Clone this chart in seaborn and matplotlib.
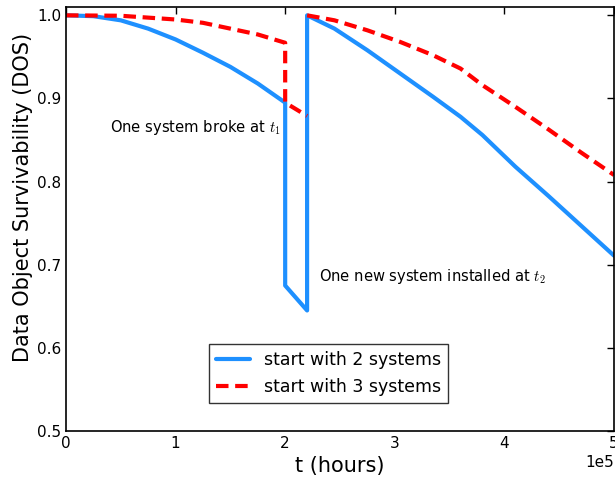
import pandas as pd
import matplotlib
matplotlib.use("Agg")
import matplotlib.pyplot as plt
import seaborn as sns

# ----------------------------
# Data (t in hours)
# ----------------------------
t_two = [0, 0.25e5, 0.5e5, 0.75e5, 1.0e5, 1.25e5, 1.5e5, 1.75e5, 2.0e5,
         2.0e5, 2.2e5,
         2.2e5, 2.45e5, 2.75e5, 3.05e5, 3.35e5, 3.6e5, 3.8e5, 4.1e5, 4.4e5, 4.7e5, 5.0e5]
dos_two = [1.0, 0.999, 0.994, 0.984, 0.971, 0.955, 0.938, 0.918, 0.895,
           0.675, 0.645,
           1.0, 0.984, 0.958, 0.930, 0.902, 0.878, 0.856, 0.818, 0.783, 0.747, 0.711]
seg_two = [0] * 22

t_three = [0, 0.5e5, 1.0e5, 1.25e5, 1.5e5, 1.75e5, 2.0e5,
           2.0e5, 2.2e5,
           2.2e5, 2.45e5, 2.75e5, 3.05e5, 3.35e5, 3.6e5, 3.8e5, 4.1e5, 4.4e5, 4.7e5, 5.0e5]
dos_three = [1.0, 0.9995, 0.995, 0.991, 0.984, 0.977, 0.967,
             0.895, 0.879,
             1.0, 0.994, 0.982, 0.968, 0.952, 0.936, 0.916, 0.890, 0.863, 0.835, 0.808]
seg_three = [1] * 9 + [2] * 11

labels = ["start with 2 systems", "start with 3 systems"]

df = pd.concat([
    pd.DataFrame({"t": t_two, "dos": dos_two, "seg": seg_two, "series": labels[0]}),
    pd.DataFrame({"t": t_three, "dos": dos_three, "seg": seg_three, "series": labels[1]}),
], ignore_index=True)

# ----------------------------
# Style
# ----------------------------
sns.set_style("white")
plt.rcParams["font.family"] = ["DejaVu Sans"]
plt.rcParams["mathtext.fontset"] = "cm"
plt.rcParams["text.color"] = "black"
plt.rcParams["axes.labelcolor"] = "black"
plt.rcParams["xtick.color"] = "black"
plt.rcParams["ytick.color"] = "black"

fig = plt.figure(figsize=(6.15, 4.78), dpi=100)
ax = fig.add_axes([0.1073, 0.0983, 0.891, 0.887])

sns.lineplot(data=df, x="t", y="dos", hue="series", style="series", units="seg",
             palette=["#1E90FF", "red"], dashes=[(None, None), (3, 1.6)],
             sort=False, estimator=None, linewidth=3, ax=ax)

ax.set_xlim(0, 5e5)
ax.set_ylim(0.5, 1.01)
ax.set_yticks([0.5, 0.6, 0.7, 0.8, 0.9, 1.0])
ax.ticklabel_format(style="sci", axis="x", scilimits=(0, 0))
ax.xaxis.get_offset_text().set_fontsize(11)
ax.tick_params(direction="in", top=True, right=True, length=5, width=1,
               labelsize=11, colors="black")
for s in ax.spines.values():
    s.set_color("black")
    s.set_linewidth(1.2)

ax.set_xlabel("t (hours)", fontsize=15)
ax.set_ylabel("Data Object Survivability (DOS)", fontsize=15)
ax.yaxis.set_label_coords(-0.060, 0.552)

# Annotations
ax.text(0.4e5, 0.865, "One system broke at $t_1$", fontsize=10.6, va="center")
ax.text(2.31e5, 0.686, "One new system installed at $t_2$", fontsize=10.6, va="center")

leg = ax.legend(loc="lower center", bbox_to_anchor=(0.479, 0.066),
                fontsize=12.5, frameon=True, fancybox=False, borderaxespad=0,
                handlelength=2.0)
leg.get_frame().set_edgecolor("black")
leg.get_frame().set_linewidth(1.0)
leg.set_title(None)

plt.savefig("out.png", dpi=100)
plt.close()
